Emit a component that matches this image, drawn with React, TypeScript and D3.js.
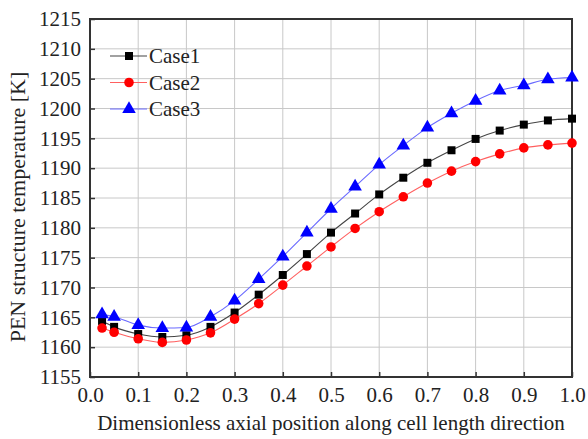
import React, { useEffect, useRef } from 'react'
import * as d3 from 'd3'

const positions = [0.025, 0.05, 0.1, 0.15, 0.2, 0.25, 0.3, 0.35, 0.4, 0.45, 0.5, 0.55, 0.6, 0.65, 0.7, 0.75, 0.8, 0.85, 0.9, 0.95, 1.0]
const case1 = [1164.4, 1163.4, 1162.2, 1161.7, 1162.0, 1163.4, 1165.8, 1168.8, 1172.1, 1175.6, 1179.2, 1182.4, 1185.6, 1188.4, 1190.9, 1193.0, 1194.9, 1196.3, 1197.3, 1198.0, 1198.3]
const case2 = [1163.2, 1162.5, 1161.4, 1160.8, 1161.2, 1162.4, 1164.7, 1167.3, 1170.4, 1173.6, 1176.8, 1179.9, 1182.7, 1185.2, 1187.5, 1189.5, 1191.1, 1192.4, 1193.4, 1193.9, 1194.2]
const case3 = [1165.5, 1165.1, 1163.7, 1163.2, 1163.3, 1165.1, 1167.8, 1171.4, 1175.2, 1179.2, 1183.2, 1186.9, 1190.6, 1193.8, 1196.8, 1199.2, 1201.3, 1203.0, 1203.9, 1204.9, 1205.2]
const seriesNames = ['Case1', 'Case2', 'Case3']
const xTicks = [0, 0.1, 0.2, 0.3, 0.4, 0.5, 0.6, 0.7, 0.8, 0.9, 1.0]
const yTicks = [1155, 1160, 1165, 1170, 1175, 1180, 1185, 1190, 1195, 1200, 1205, 1210, 1215]

const W = 588
const H = 439
const FONT = '"Liberation Serif", "Times New Roman", serif'

const App = () => {
  const ref = useRef<SVGSVGElement>(null)

  useEffect(() => {
    const svg = d3.select(ref.current)
    svg.selectAll('*').remove()

    const left = 90
    const right = 572
    const top = 19
    const bottom = 377

    const x = d3.scaleLinear().domain([0, 1]).range([left, right])
    const y = d3.scaleLinear().domain([1155, 1215]).range([bottom, top])

    // grid
    const grid = svg.append('g')
    grid
      .selectAll('line.vx')
      .data(xTicks.slice(1, -1))
      .enter()
      .append('line')
      .attr('x1', d => x(d))
      .attr('x2', d => x(d))
      .attr('y1', top)
      .attr('y2', bottom)
      .attr('stroke', '#c8c8c8')
      .attr('stroke-width', 1)
    grid
      .selectAll('line.hy')
      .data(yTicks.slice(1, -1))
      .enter()
      .append('line')
      .attr('x1', left)
      .attr('x2', right)
      .attr('y1', d => y(d))
      .attr('y2', d => y(d))
      .attr('stroke', '#c8c8c8')
      .attr('stroke-width', 1)

    // axes (ticks pointing inwards)
    const xAxis = d3.axisBottom(x).tickValues(xTicks).tickFormat(d3.format('.1f')).tickSizeInner(-5).tickSizeOuter(0).tickPadding(10)
    const gx = svg.append('g').attr('transform', `translate(0,${bottom})`).call(xAxis)
    gx.select('.domain').remove()
    gx.selectAll('line').attr('stroke', '#333').attr('stroke-width', 1.5)
    gx.selectAll('text').attr('font-family', FONT).attr('font-size', 21).attr('fill', '#222')

    const yAxis = d3.axisLeft(y).tickValues(yTicks).tickFormat(d3.format('d')).tickSizeInner(-5).tickSizeOuter(0).tickPadding(9)
    const gy = svg.append('g').attr('transform', `translate(${left},0)`).call(yAxis)
    gy.select('.domain').remove()
    gy.selectAll('line').attr('stroke', '#333').attr('stroke-width', 1.5)
    gy.selectAll('text').attr('font-family', FONT).attr('font-size', 21).attr('fill', '#222')

    // frame
    svg
      .append('rect')
      .attr('x', left)
      .attr('y', top)
      .attr('width', right - left)
      .attr('height', bottom - top)
      .attr('fill', 'none')
      .attr('stroke', '#333')
      .attr('stroke-width', 2)

    const series = [
      { name: seriesNames[0], values: case1, line: '#444', color: '#000', shape: d3.symbolSquare, size: 64 },
      { name: seriesNames[1], values: case2, line: '#ff6060', color: '#ff0000', shape: d3.symbolCircle, size: 72 },
      { name: seriesNames[2], values: case3, line: '#6a6aff', color: '#0000ff', shape: d3.symbolTriangle, size: 80 },
    ]

    const line = d3
      .line<number>()
      .x((d, i) => x(positions[i]))
      .y(d => y(d))
      .curve(d3.curveMonotoneX)

    series.forEach(s => {
      svg
        .append('path')
        .datum(s.values)
        .attr('d', line)
        .attr('fill', 'none')
        .attr('stroke', s.line)
        .attr('stroke-width', 1.1)
      svg
        .append('g')
        .selectAll('path')
        .data(s.values)
        .enter()
        .append('path')
        .attr('d', d3.symbol().type(s.shape).size(s.size)())
        .attr('transform', (d, i) => `translate(${x(positions[i])},${y(d)})`)
        .attr('fill', s.color)
    })

    // legend
    const legend = svg.append('g')
    series.forEach((s, i) => {
      const ly = 56 + i * 26.5
      legend
        .append('line')
        .attr('x1', 110)
        .attr('x2', 147)
        .attr('y1', ly)
        .attr('y2', ly)
        .attr('stroke', s.line)
        .attr('stroke-width', 1.1)
      legend
        .append('path')
        .attr('d', d3.symbol().type(s.shape).size(s.size)())
        .attr('transform', `translate(129,${ly})`)
        .attr('fill', s.color)
      legend
        .append('text')
        .attr('x', 149)
        .attr('y', ly)
        .attr('dy', '0.35em')
        .attr('font-family', FONT)
        .attr('font-size', 21)
        .attr('fill', '#222')
        .text(s.name)
    })

    // axis titles
    svg
      .append('text')
      .attr('x', (left + right) / 2)
      .attr('y', 430)
      .attr('text-anchor', 'middle')
      .attr('font-family', FONT)
      .attr('font-size', 21)
      .attr('fill', '#222')
      .text('Dimensionless axial position along cell length direction')
    svg
      .append('text')
      .attr('transform', `translate(25,207) rotate(-90)`)
      .attr('text-anchor', 'middle')
      .attr('font-family', FONT)
      .attr('font-size', 22)
      .attr('fill', '#222')
      .text('PEN structure temperature [K]')
  }, [])

  return (
    <svg
      ref={ref}
      width={W}
      height={H}
      style={{ position: 'absolute', left: 0, top: 0, background: '#fff' }}
    />
  )
}

export default App
